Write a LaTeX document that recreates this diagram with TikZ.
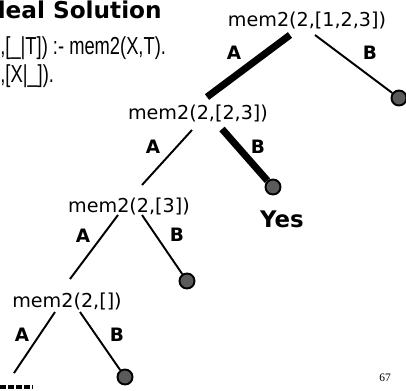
\documentclass[tikz,border=0pt]{standalone}
\usepackage{fontspec}
\usetikzlibrary{calc, positioning}
\newfontfamily\treefont{DejaVu Sans}
\newfontfamily\codefont[FakeStretch=0.745]{Liberation Sans}
\newfontfamily\pagefont{Liberation Serif}
\definecolor{leafgray}{HTML}{5A5A5A}

\begin{document}
\begin{tikzpicture}[
  x=0.02cm, y=-0.02cm,
  goal/.style={inner sep=0pt, font=\treefont\fontsize{10.9}{13}\selectfont},
  branch/.style={inner sep=0pt, font=\treefont\bfseries\fontsize{10.5}{12}\selectfont},
  leaf/.style={circle, draw=black, line width=1.1pt, fill=leafgray,
               minimum size=0.3cm, inner sep=0pt},
  tried/.style={line width=1.1pt, black},
  chosen/.style={line width=4pt, black},
  codeline/.style={anchor=base west, inner sep=0pt,
                   font=\codefont\fontsize{14}{16}\selectfont}
]
  \useasboundingbox (0,0) rectangle (406,390);
  \clip (0,0) rectangle (406,390);

  % Slide title and clause text (cut at the left edge)
  \node[anchor=base east, inner sep=0pt,
        font=\treefont\bfseries\fontsize{13.2}{15}\selectfont] (title)
    at (162,18) {deal Solution};
  \node[codeline] (clause1) at (0,54) {,[\_|T]) :- mem2(X,T).};
  \node[codeline] (clause2) at (0,82) {,[X|\_]).};

  % Goals of the search tree
  \node[goal] (g1) at (307,20)  {mem2(2,[1,2,3])};
  \node[goal] (g2) at (198,113) {mem2(2,[2,3])};
  \node[goal] (g3) at (129,206) {mem2(2,[3])};
  \node[goal] (g4) at (67,301)  {mem2(2,[])};

  % Leaves
  \node[leaf] (l1) at (399,98)  {};
  \node[leaf] (l2) at (273,187) {};
  \node[leaf] (l3) at (187,281) {};
  \node[leaf] (l4) at (125,377) {};
  \coordinate (cut) at (14,373);

  \node[inner sep=0pt, font=\treefont\bfseries\fontsize{13}{15}\selectfont]
    (yes) at (282,219) {Yes};

  % Branches
  \draw[chosen] ($(g1)+(-17,15)$) -- ($(g2)+(9,-16)$);
  \draw[tried]  ($(g1)+(8,15)$)   -- (l1);
  \draw[tried]  ($(g2)+(-6,17)$)  -- ($(g3)+(13,-21)$);
  \draw[chosen] ($(g2)+(24,16)$)  -- (l2);
  \draw[tried]  ($(g3)+(-11,9)$)  -- ($(g4)+(3,-22)$);
  \draw[tried]  ($(g3)+(13,9)$)   -- (l3);
  \draw[tried]  ($(g4)+(-12,11)$) -- (cut);
  \draw[tried]  ($(g4)+(13,11)$)  -- (l4);

  % Clause labels
  \node[branch] (a1) at (234,53)  {A};
  \node[branch] (b1) at (370,53)  {B};
  \node[branch] (a2) at (153,147) {A};
  \node[branch] (b2) at (258,147) {B};
  \node[branch] (a3) at (83,236)  {A};
  \node[branch] (b3) at (177,235) {B};
  \node[branch] (a4) at (22,335)  {A};
  \node[branch] (b4) at (117,335) {B};

  % Slide footer
  \draw[line width=1.8pt, dash pattern=on 3.2pt off 1.4pt] (0,387) -- (33,387);
  \node[inner sep=0pt, font=\pagefont\fontsize{6.5}{8}\selectfont]
    (page) at (385,378) {67};
\end{tikzpicture}
\end{document}
